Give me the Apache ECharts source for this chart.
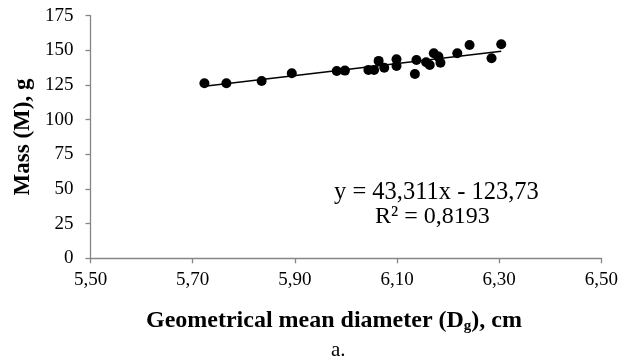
<!DOCTYPE html>
<html>
<head>
<meta charset="utf-8">
<script src="https://cdn.jsdelivr.net/npm/echarts@6/dist/echarts.min.js"></script>
<style>
html,body{margin:0;padding:0;background:#fff;}
#c{width:621px;height:364px;}
</style>
</head>
<body>
<div id="c"></div>
<script>
// Data
var diameter = [5.723, 5.766, 5.835, 5.894, 5.982, 5.998, 6.044, 6.055, 6.064, 6.075, 6.099, 6.099, 6.135, 6.138, 6.157, 6.164, 6.172, 6.181, 6.185, 6.218, 6.242, 6.285, 6.304];
var mass = [126.3, 126.3, 127.9, 133.5, 135.1, 135.4, 135.9, 135.9, 142.4, 137.5, 143.6, 138.7, 133.0, 143.1, 141.4, 139.5, 147.9, 145.5, 141.1, 147.9, 153.9, 144.3, 154.4];
var trendSlope = 43.311;
var trendIntercept = -123.73;
var equationText = 'y = 43,311x - 123,73';
var r2Text = 'R\u00B2 = 0,8193';

var points = diameter.map(function (d, i) { return [d, mass[i]]; });
var xMin = Math.min.apply(null, diameter), xMax = Math.max.apply(null, diameter);
var trend = [[xMin, trendSlope * xMin + trendIntercept], [xMax, trendSlope * xMax + trendIntercept]];

var FONT = '"Liberation Serif", "Times New Roman", serif';
var AX = '#868686';
var chart = echarts.init(document.getElementById('c'));
chart.setOption({
  animation: false,
  grid: { left: 90.5, right: 18, top: 15.7, bottom: 105.7 },
  xAxis: {
    type: 'value', min: 5.5, max: 6.5, interval: 0.2,
    axisLine: { lineStyle: { color: AX, width: 1.3 } },
    axisTick: { show: true, length: 5, lineStyle: { color: AX, width: 1.3 } },
    splitLine: { show: false },
    axisLabel: { color: '#000', fontFamily: FONT, fontSize: 19, margin: 12,
      formatter: function (v) { return v.toFixed(2).replace('.', ','); } }
  },
  yAxis: {
    type: 'value', min: 0, max: 175, interval: 25,
    axisLine: { show: true, lineStyle: { color: AX, width: 1.3 } },
    axisTick: { show: true, length: 5, lineStyle: { color: AX, width: 1.3 } },
    splitLine: { show: false },
    axisLabel: { color: '#000', fontFamily: FONT, fontSize: 19, margin: 17 },
    name: 'Mass (M), g', nameLocation: 'middle', nameGap: 56, nameRotate: 90,
    nameTextStyle: { color: '#000', fontFamily: FONT, fontSize: 23, fontWeight: 'bold' }
  },
  graphic: [
    { type: 'text', left: 146, top: 309, style: {
      text: '{b|Geometrical mean diameter (D}{s|g}{b|), cm}',
      rich: {
        b: { fontFamily: FONT, fontSize: 24, fontWeight: 'bold', fill: '#000' },
        s: { fontFamily: FONT, fontSize: 15, fontWeight: 'bold', fill: '#000', padding: [11, 0, 0, 0] }
      } } },
    { type: 'text', left: 331, top: 340, style: { text: 'a.', fontFamily: FONT, fontSize: 21, fill: '#000' } },
    { type: 'text', left: 334, top: 180, style: { text: equationText, fontFamily: FONT, fontSize: 24.5, fill: '#000' } },
    { type: 'text', left: 375, top: 205, style: { text: r2Text, fontFamily: FONT, fontSize: 24, fill: '#000' } }
  ],
  series: [
    { type: 'line', data: trend, symbol: 'none', lineStyle: { color: '#000', width: 1.5 }, z: 2 },
    { type: 'scatter', data: points, symbol: 'circle', symbolSize: 10, itemStyle: { color: '#000', opacity: 1 }, z: 3 }
  ]
});
</script>
</body>
</html>
